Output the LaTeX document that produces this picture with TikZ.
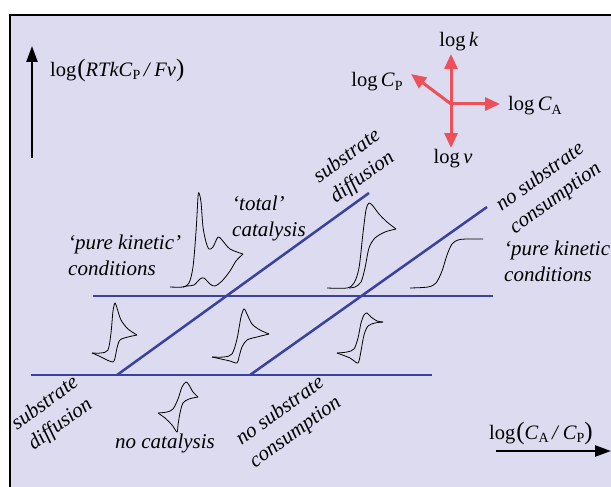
\documentclass[tikz,border=0pt]{standalone}
\usepackage{fontspec}
\setmainfont{Liberation Serif}
\usetikzlibrary{arrows.meta}
\definecolor{bglav}{RGB}{220,219,239}
\definecolor{zoneblue}{RGB}{58,66,160}
\definecolor{compred}{RGB}{238,80,90}
\newcommand{\lsub}[1]{\raisebox{-0.35ex}{\fontsize{14}{14}\selectfont #1}}
\newcommand{\bigpar}[1]{{\fontsize{25}{25}\selectfont #1}}
\tikzset{
	zoneline/.style={draw=zoneblue,line width=2.5pt},
	cvtrace/.style={draw=black,line width=0.8pt,line join=round},
	redarrow/.style={draw=compred,line width=3pt,-{Triangle[length=15pt,width=13pt]}},
	axisarrow/.style={draw=black,line width=2.4pt,-{Triangle[length=16pt,width=11pt]}},
	zonetext/.style={font=\itshape\fontsize{21}{26}\selectfont,inner sep=0pt},
	mathtext/.style={font=\fontsize{20.5}{24}\selectfont,inner sep=0pt}
}
\begin{document}
\begin{tikzpicture}[x=1pt,y=-1pt]
	\useasboundingbox (0,0) rectangle (611,487);
	\fill[white] (0,0) rectangle (611,487);
	\fill[bglav] (10,15) rectangle (611,487);
	\draw[line width=2pt] (10,487) -- (10,15) -- (611,15);
	\coordinate (ybot) at (32,158);
	\coordinate (ytop) at (32,46);
	\draw[axisarrow] (ybot) -- (ytop);
	\node[mathtext,anchor=west] (ylab) at (50,70) {log\kern1pt\bigpar{(}\textit{RTkC}\lsub{P}\,\textit{/}\,\textit{Fv}\bigpar{)}};
	\coordinate (xbeg) at (496,451);
	\coordinate (xend) at (611,451);
	\draw[axisarrow] (xbeg) -- (xend);
	\node[mathtext] (xlab) at (541,433) {log\kern1pt\bigpar{(}\textit{C}\lsub{A}\,\textit{/}\,\textit{C}\lsub{P}\bigpar{)}};
	\coordinate (cen) at (451,104);
	\coordinate (tipk) at (451,54);
	\coordinate (tipv) at (451,148);
	\coordinate (tipa) at (500,104);
	\coordinate (tipp) at (411,74);
	\draw[redarrow] (cen) -- (tipk);
	\draw[redarrow] (cen) -- (tipv);
	\draw[redarrow] (cen) -- (tipa);
	\draw[redarrow] (cen) -- (tipp);
	\node[mathtext] (logk) at (459,42) {log\,\textit{k}};
	\node[mathtext] (logv) at (453,159) {log\,\textit{v}};
	\node[mathtext] (logca) at (535,106) {log\,\textit{C}\lsub{A}};
	\node[mathtext] (logcp) at (377,82) {log\,\textit{C}\lsub{P}};
	\coordinate (ul) at (93,296);
	\coordinate (ur) at (493,296);
	\coordinate (ll) at (31,375);
	\coordinate (lr) at (432,375);
	\coordinate (d1a) at (117,375);
	\coordinate (d1b) at (369,193);
	\coordinate (d2a) at (250,375);
	\coordinate (d2b) at (487,207);
	\draw[zoneline] (ul) -- (ur);
	\draw[zoneline] (ll) -- (lr);
	\draw[zoneline] (d1a) -- (d1b);
	\draw[zoneline] (d2a) -- (d2b);
	\draw[cvtrace,shift={(92,353)}] plot[smooth,tension=0.5] coordinates {(0,0) (9,0) (16,-3) (19,-20) (21,-42) (23,-50) (25,-45) (29,-33) (36,-24) (45,-18)};
	\draw[cvtrace,shift={(92,353)}] plot[smooth,tension=0.5] coordinates {(45,-18) (36,-16) (28,-13) (25,-5) (23,5) (21,9) (15,7) (7,3) (0,0)};
	\draw[cvtrace,shift={(212,357)}] plot[smooth,tension=0.5] coordinates {(0,0) (12,0) (20,-3) (25,-18) (29,-40) (32,-48) (35,-43) (40,-33) (48,-27) (57,-23)};
	\draw[cvtrace,shift={(212,357)}] plot[smooth,tension=0.5] coordinates {(57,-23) (45,-20) (35,-17) (30,-10) (27,0) (25,6) (18,4) (9,2) (0,0)};
	\draw[cvtrace,shift={(337,353)}] plot[smooth,tension=0.5] coordinates {(0,0) (10,-1) (17,-4) (21,-15) (24,-30) (27,-38) (30,-40) (34,-36) (40,-32) (46,-31)};
	\draw[cvtrace,shift={(337,353)}] plot[smooth,tension=0.5] coordinates {(46,-31) (38,-30) (31,-27) (27,-18) (24,-2) (22,8) (20,10) (13,5) (0,0)};
	\draw[cvtrace,shift={(158,413)}] plot[smooth,tension=0.5] coordinates {(0,0) (9,-1) (15,-4) (20,-14) (24,-26) (28,-31) (31,-28) (35,-21) (40,-16)};
	\draw[cvtrace,shift={(158,413)}] plot[smooth,tension=0.5] coordinates {(40,-16) (31,-14) (25,-10) (22,0) (20,12) (19,19) (14,12) (7,5) (0,0)};
	\draw[cvtrace,shift={(170,287)}] plot[smooth,tension=0.5] coordinates {(0,0) (13,0) (19,-4) (23,-20) (26,-55) (28,-90) (29,-94) (31,-85) (33,-60) (36,-45) (39,-38) (43,-40) (48,-50) (52,-47) (60,-38) (73,-33)};
	\draw[cvtrace,shift={(170,287)}] plot[smooth,tension=0.5] coordinates {(73,-33) (66,-26) (60,-16) (52,-6) (45,-1) (40,-3) (34,-9) (30,-8) (24,-2) (17,-1) (13,0)};
	\draw[cvtrace,shift={(327,288)}] plot[smooth,tension=0.5] coordinates {(0,0) (20,0) (27,-5) (32,-20) (36,-55) (39,-78) (42,-85) (46,-82) (52,-74) (60,-66) (69,-59)};
	\draw[cvtrace,shift={(327,288)}] plot[smooth,tension=0.5] coordinates {(69,-59) (58,-56) (48,-50) (42,-40) (38,-20) (34,-6) (28,-1) (22,0)};
	\draw[cvtrace,shift={(410,288)}] plot[smooth,tension=0.5] coordinates {(0,0) (18,-1) (26,-5) (32,-17) (37,-33) (42,-44) (48,-48) (56,-49) (73,-49)};
	\node[zonetext,anchor=west,align=left] (pkleft) at (68,255) {‘pure kinetic’\\conditions};
	\node[zonetext,anchor=west,align=left] (total) at (232,218) {‘total’\\catalysis};
	\node[zonetext,anchor=west,align=left] (pkright) at (504,261) {‘pure kinetic’\\conditions};
	\node[zonetext] (nocat) at (165,443) {no catalysis};
	\node[zonetext,rotate=36,align=center] (sdtop) at (355,167) {substrate\\diffusion};
	\node[zonetext,rotate=36,align=center] (sdbot) at (53,414) {substrate\\diffusion};
	\node[zonetext,rotate=36,align=center] (nsctop) at (548,188) {no substrate\\consumption};
	\node[zonetext,rotate=36,align=center] (nscbot) at (288,422) {no substrate\\consumption};
\end{tikzpicture}
\end{document}
